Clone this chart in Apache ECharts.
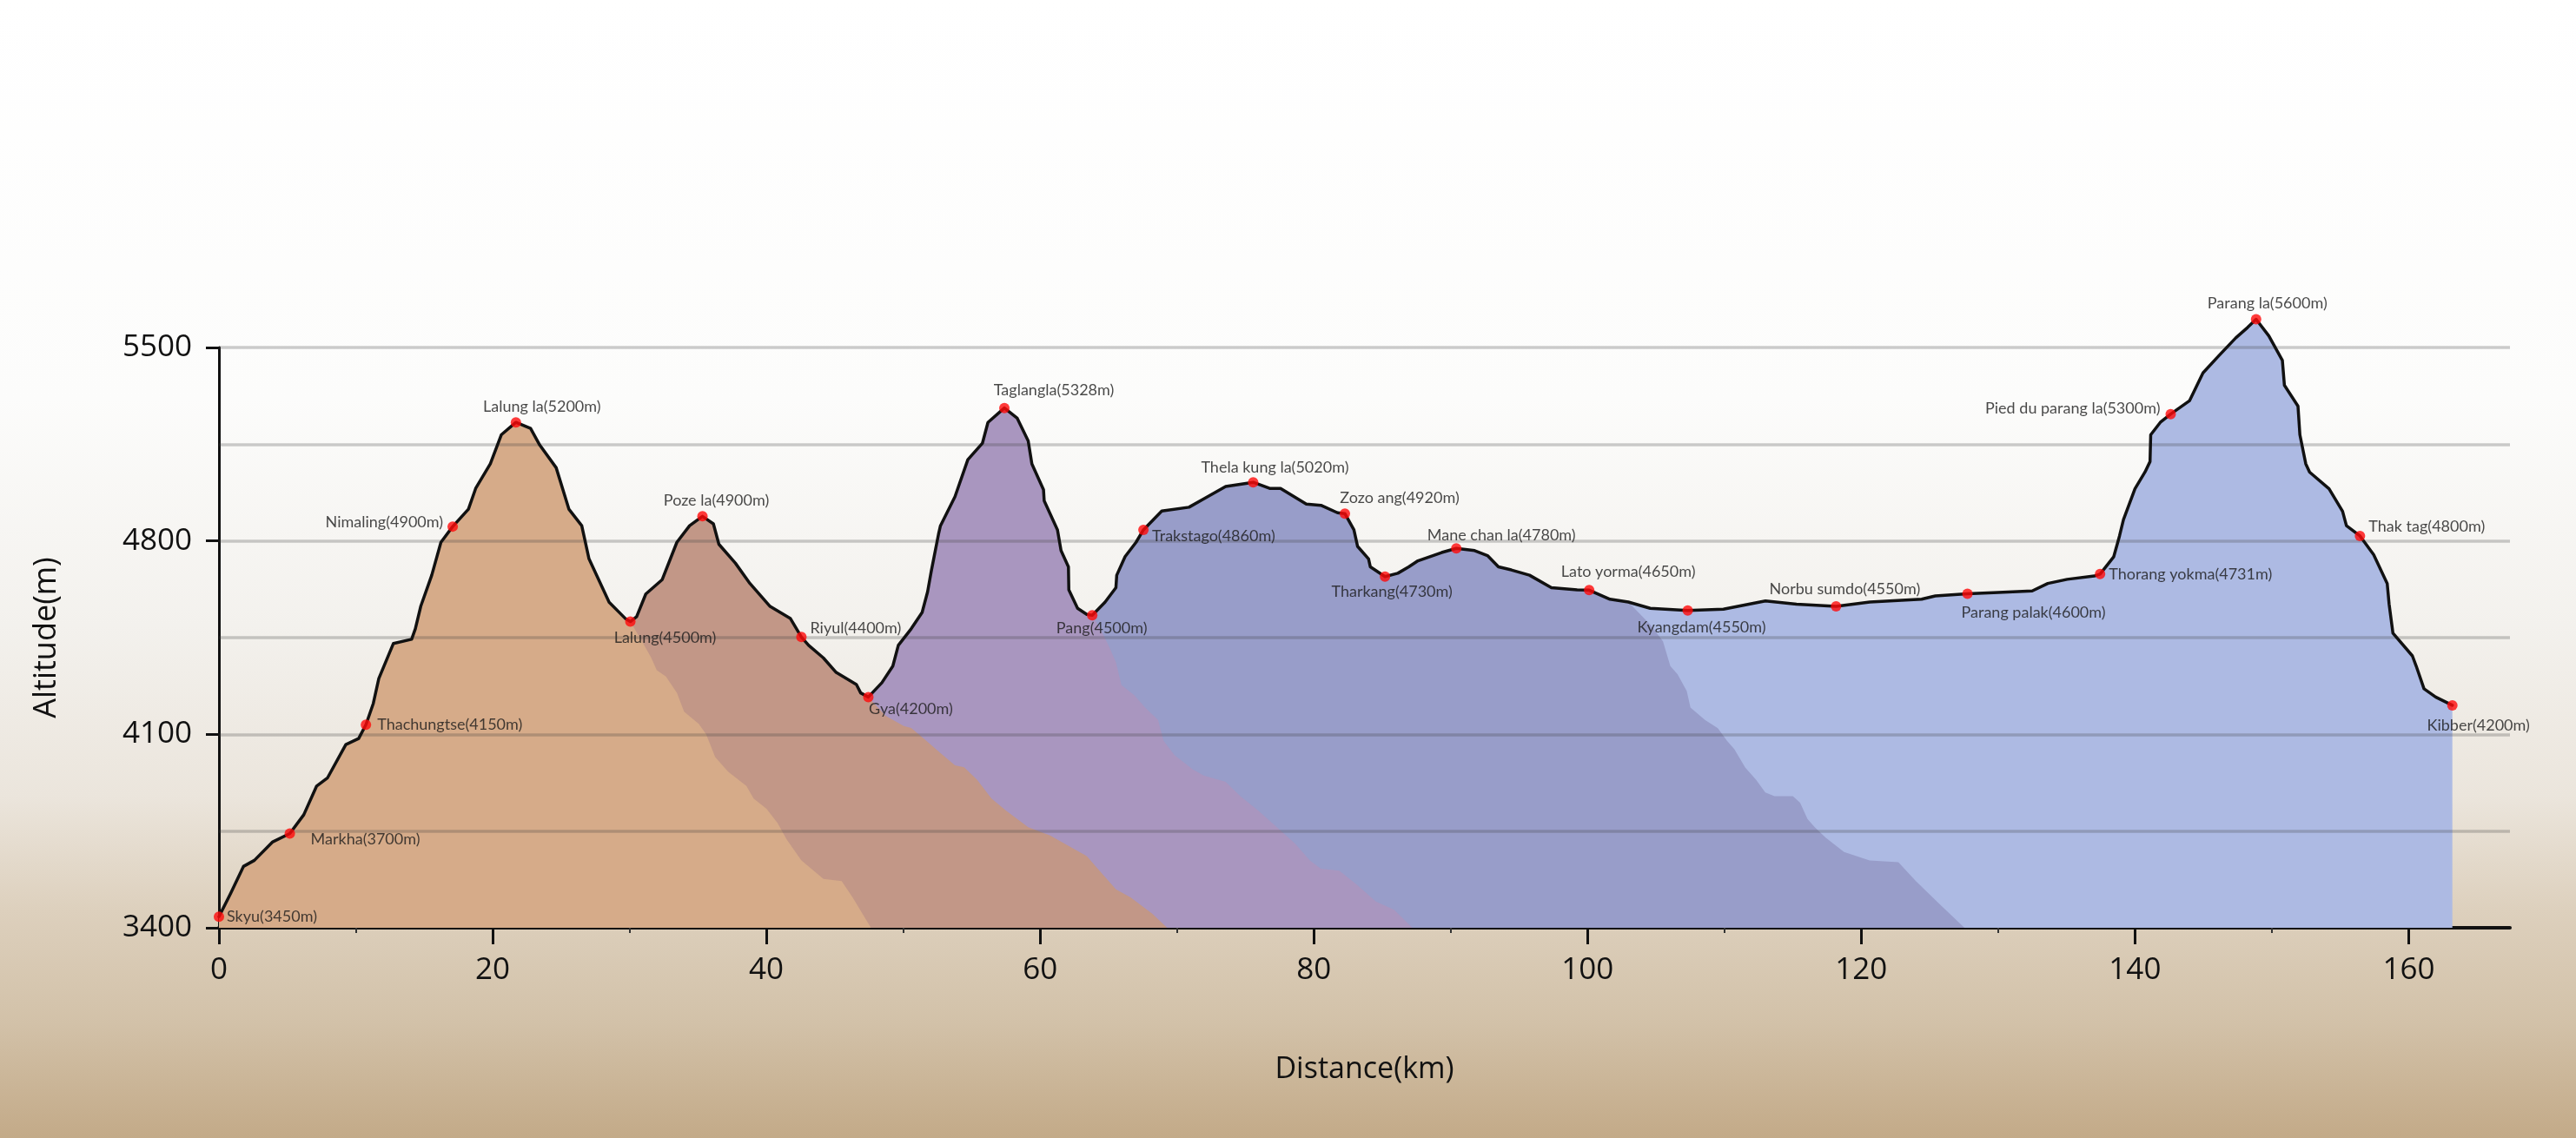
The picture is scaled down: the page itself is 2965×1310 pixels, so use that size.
<!DOCTYPE html>
<html>
<head>
<meta charset="utf-8">
<script src="https://cdn.jsdelivr.net/npm/echarts@6/dist/echarts.min.js"></script>
<style>
html,body{margin:0;padding:0;width:100%;height:100%;overflow:hidden;background:#fff;}
#chart{width:2965px;height:1310px;}
</style>
</head>
<body>
<div id="chart"></div>
<script>
// ---------------- data ----------------
const xTickValues = [0, 20, 40, 60, 80, 100, 120, 140, 160];
const yTickValues = [3400, 4100, 4800, 5500];
const gridValues = [3750, 4100, 4450, 4800, 5150, 5500];

// profile segments [km, altitude m]
const segSkyuLalung = [
  [0, 3440], [0.86, 3525], [1.79, 3622], [2.59, 3644], [3.93, 3711], [5.18, 3741],
  [6.20, 3809], [7.14, 3913], [7.94, 3943], [9.27, 4063], [10.21, 4085], [10.74, 4135],
  [11.28, 4212], [11.68, 4302], [12.75, 4429], [14.08, 4444], [14.35, 4482], [14.75, 4564],
  [15.55, 4676], [16.22, 4795], [17.08, 4852], [18.23, 4915], [18.76, 4990], [19.83, 5079],
  [20.63, 5184], [21.70, 5229], [22.77, 5207], [23.44, 5147], [24.64, 5065], [25.57, 4915],
  [26.51, 4855], [27.04, 4735], [28.51, 4578], [29.72, 4518], [30.06, 4508]
];
const segLalungGya = [
  [30.06, 4508], [30.52, 4526], [31.19, 4608], [32.39, 4660], [33.46, 4795], [34.39, 4855],
  [35.33, 4889], [36.13, 4862], [36.53, 4788], [37.73, 4720], [38.80, 4646], [40.27, 4563],
  [41.76, 4519], [42.56, 4452], [43.09, 4422], [44.16, 4377], [45.10, 4324], [46.58, 4280],
  [46.89, 4250], [47.45, 4235]
];
const segGyaPang = [
  [47.45, 4235], [48.44, 4287], [49.24, 4347], [49.64, 4422], [50.58, 4482], [51.38, 4541],
  [51.78, 4616], [52.05, 4691], [52.58, 4825], [52.72, 4855], [53.78, 4960], [54.72, 5094],
  [55.79, 5154], [56.19, 5229], [57.39, 5281], [58.33, 5244], [59.13, 5162], [59.40, 5079],
  [60.25, 4985], [60.30, 4945], [61.27, 4840], [61.53, 4765], [62.07, 4706], [62.10, 4623],
  [62.74, 4556], [63.41, 4534], [63.81, 4531]
];
const segPangLato = [
  [63.81, 4531], [64.74, 4578], [65.54, 4631], [65.60, 4676], [66.21, 4743], [67.01, 4795],
  [67.55, 4840], [68.89, 4908], [70.88, 4922], [71.96, 4952], [73.56, 4997], [75.57, 5012],
  [76.77, 4990], [77.57, 4990], [79.45, 4933], [80.52, 4929], [81.73, 4902], [82.27, 4899],
  [82.93, 4840], [83.20, 4780], [84.00, 4735], [84.13, 4706], [85.20, 4671], [86.14, 4683],
  [86.94, 4706], [87.61, 4728], [89.34, 4758], [90.41, 4773], [91.75, 4765], [92.69, 4747],
  [93.49, 4706], [94.43, 4695], [95.76, 4676], [97.36, 4631], [99.24, 4623], [100.12, 4622],
  [101.64, 4589], [102.98, 4579]
];
const segKyangdamKibber = [
  [102.98, 4579], [104.58, 4556], [107.32, 4548], [109.93, 4553], [113.00, 4583], [115.27, 4571],
  [118.16, 4563], [120.63, 4579], [124.41, 4589], [125.41, 4601], [127.76, 4609], [129.66, 4613],
  [132.49, 4619], [133.63, 4646], [135.05, 4661], [137.03, 4673], [137.45, 4680], [138.45, 4743],
  [138.87, 4818], [139.16, 4877], [140.00, 4989], [140.73, 5049], [141.10, 5087], [141.15, 5184],
  [141.85, 5229], [142.61, 5259], [143.98, 5307], [144.97, 5408], [146.09, 5468], [147.37, 5535],
  [148.22, 5572], [148.85, 5602], [149.78, 5542], [150.77, 5453], [150.92, 5363], [151.91, 5288],
  [152.05, 5184], [152.48, 5079], [152.76, 5049], [154.18, 4989], [155.17, 4907], [155.45, 4855],
  [156.44, 4818], [157.44, 4750], [158.43, 4646], [158.57, 4571], [158.85, 4466], [160.27, 4384],
  [160.55, 4347], [161.12, 4265], [161.97, 4235], [163.19, 4205]
];

// descending silhouettes of each layer down to the baseline
const shadowTan = [
  [30.92, 4436], [31.59, 4377], [31.99, 4332], [32.66, 4309], [33.46, 4250], [33.99, 4182],
  [35.06, 4138], [35.60, 4100], [36.26, 4018], [37.20, 3965], [38.54, 3913], [39.07, 3868],
  [40.01, 3831], [40.82, 3779], [41.49, 3719], [42.56, 3644], [44.17, 3577], [45.50, 3569],
  [46.30, 3510], [47.64, 3400]
];
const shadowMauve = [
  [48.71, 4167], [50.04, 4130], [50.58, 4123], [51.65, 4078], [52.71, 4033], [53.78, 3988],
  [54.45, 3981], [55.39, 3936], [56.45, 3868], [57.52, 3824], [59.13, 3764], [60.73, 3734],
  [61.80, 3704], [63.41, 3659], [64.21, 3614], [65.01, 3569], [65.54, 3539], [66.61, 3510],
  [68.21, 3450], [69.28, 3400]
];
const shadowPurple = [
  [64.47, 4474], [65.01, 4421], [65.54, 4361], [65.94, 4279], [66.88, 4242], [67.68, 4197],
  [68.62, 4152], [69.02, 4077], [69.82, 4025], [71.16, 3973], [71.96, 3951], [73.56, 3928],
  [74.63, 3876], [75.97, 3823], [77.30, 3764], [78.64, 3704], [79.71, 3644], [80.51, 3614],
  [81.86, 3607], [83.19, 3554], [84.53, 3495], [85.87, 3465], [87.20, 3400]
];
const shadowSlate = [
  [104.58, 4497], [105.51, 4437], [106.05, 4347], [106.58, 4317], [107.25, 4257], [107.52, 4197],
  [108.58, 4152], [109.52, 4122], [110.19, 4077], [110.72, 4047], [111.52, 3980], [112.32, 3935],
  [112.99, 3890], [113.66, 3876], [115.00, 3876], [115.53, 3853], [116.07, 3794], [116.60, 3764],
  [117.40, 3726], [118.74, 3674], [120.61, 3644], [122.71, 3637], [123.99, 3569], [125.69, 3487],
  [127.54, 3400]
];

// waypoints
const waypointNames = ['Skyu', 'Markha', 'Thachungtse', 'Nimaling', 'Lalung la', 'Lalung', 'Poze la',
  'Riyul', 'Gya', 'Taglangla', 'Pang', 'Trakstago', 'Thela kung la', 'Zozo ang', 'Tharkang',
  'Mane chan la', 'Lato yorma', 'Kyangdam', 'Norbu sumdo', 'Parang palak', 'Thorang yokma',
  'Pied du parang la', 'Parang la', 'Thak tag', 'Kibber'];
const waypointNominal = [3450, 3700, 4150, 4900, 5200, 4500, 4900, 4400, 4200, 5328, 4500, 4860,
  5020, 4920, 4730, 4780, 4650, 4550, 4550, 4600, 4731, 5300, 5600, 4800, 4200];
const waypointKm = [0, 5.18, 10.74, 17.08, 21.70, 30.06, 35.33, 42.56, 47.45, 57.39, 63.81, 67.55,
  75.57, 82.27, 85.20, 90.41, 100.12, 107.32, 118.16, 127.76, 137.45, 142.61, 148.85, 156.44, 163.19];
const waypointAlt = [3440, 3741, 4135, 4852, 5229, 4508, 4889, 4452, 4235, 5281, 4531, 4840,
  5012, 4899, 4671, 4773, 4622, 4548, 4563, 4609, 4680, 5259, 5602, 4818, 4205];

// ---------------- layout / style (not data) ----------------
// label placement: [align, dx, dy] relative to the dot centre
const labelPlacement = {
  'Skyu': ['left', 9, 0], 'Markha': ['left', 24, 7], 'Thachungtse': ['left', 13, 0],
  'Nimaling': ['right', -11, -5], 'Lalung la': ['center', 30, -18], 'Lalung': ['center', 40, 19],
  'Poze la': ['center', 16, -18], 'Riyul': ['left', 10, -10], 'Gya': ['center', 49, 14],
  'Taglangla': ['center', 57, -20], 'Pang': ['center', 11, 15], 'Trakstago': ['left', 10, 7],
  'Thela kung la': ['center', 25, -17], 'Zozo ang': ['center', 63, -18], 'Tharkang': ['center', 8, 17],
  'Mane chan la': ['center', 52, -15], 'Lato yorma': ['center', 45, -21], 'Kyangdam': ['center', 16, 19],
  'Norbu sumdo': ['center', 10, -20], 'Parang palak': ['center', 76, 22], 'Thorang yokma': ['left', 10, 0],
  'Pied du parang la': ['right', -12, -6], 'Parang la': ['center', 13, -18], 'Thak tag': ['left', 10, -11],
  'Kibber': ['center', 30, 23]
};
const DOT = 12;

const profile = [];
[segSkyuLalung, segLalungGya, segGyaPang, segPangLato, segKyangdamKibber].forEach((seg, i) => {
  seg.forEach((p, j) => { if (i === 0 || j > 0) profile.push(p); });
});

function areaLayer(name, data, color) {
  return {
    name: name, type: 'line', data: data, z: 1, clip: false, silent: true,
    showSymbol: false, symbol: 'none',
    lineStyle: { width: 0, opacity: 0 },
    areaStyle: { color: color, opacity: 1 }
  };
}

const waypointData = waypointNames.map((n, i) => {
  const pl = labelPlacement[n];
  return {
    name: n,
    value: [waypointKm[i], waypointAlt[i]],
    label: {
      show: true,
      formatter: n + '(' + waypointNominal[i] + 'm)',
      position: [DOT / 2 + pl[1], DOT / 2 + pl[2]],
      align: pl[0],
      verticalAlign: 'middle'
    }
  };
});

const tanLayer = areaLayer('Skyu - Lalung', segSkyuLalung.concat(shadowTan), '#D6AB89');
tanLayer.markLine = {
  silent: true, symbol: 'none', z: 2, animation: false,
  label: { show: false },
  lineStyle: { color: 'rgba(60,60,60,0.26)', width: 3.5, type: 'solid' },
  data: gridValues.map(v => ({ yAxis: v }))
};

const option = {
  animation: false,
  backgroundColor: {
    type: 'linear', x: 0, y: 0, x2: 0, y2: 1,
    colorStops: [
      { offset: 0, color: '#ffffff' },
      { offset: 0.35, color: '#fcfcfb' },
      { offset: 0.55, color: '#f3f1ed' },
      { offset: 0.70, color: '#ebe5dc' },
      { offset: 0.80, color: '#ddd0bd' },
      { offset: 0.90, color: '#d2c1a8' },
      { offset: 1, color: '#c3aa88' }
    ]
  },
  grid: { left: 252, right: 76, top: 400, bottom: 242, outerBoundsMode: 'none' },
  xAxis: {
    type: 'value', min: 0, max: 167.4, interval: 20,
    name: 'Distance(km)', nameLocation: 'middle', nameGap: 146,
    nameTextStyle: { fontFamily: 'Open Sans', fontSize: 34, color: '#111' },
    axisLine: { show: true, lineStyle: { color: '#111', width: 4 } },
    axisTick: { show: true, customValues: xTickValues, length: 19, lineStyle: { color: '#111', width: 3 } },
    minorTick: { show: true, splitNumber: 2, length: 6, lineStyle: { color: '#333', width: 2 } },
    axisLabel: { customValues: xTickValues, fontFamily: 'Open Sans', fontSize: 35, color: '#111', margin: 32,
      formatter: v => String(v) },
    splitLine: { show: false }
  },
  yAxis: {
    type: 'value', min: 3400, max: 5500,
    name: 'Altitude(m)', nameLocation: 'middle', nameGap: 180, nameRotate: 90,
    nameTextStyle: { fontFamily: 'Open Sans', fontSize: 36, color: '#111' },
    axisLine: { show: true, lineStyle: { color: '#111', width: 3 } },
    axisTick: { show: true, customValues: yTickValues, length: 15, lineStyle: { color: '#111', width: 3 } },
    axisLabel: { customValues: yTickValues, fontFamily: 'Open Sans', fontSize: 35, color: '#111', margin: 31,
      formatter: v => String(v) },
    splitLine: { show: false }
  },
  series: [
    areaLayer('Kyangdam - Kibber', segKyangdamKibber, '#ADBAE3'),
    areaLayer('Pang - Kyangdam', segPangLato.concat(shadowSlate), '#989DC9'),
    areaLayer('Gya - Pang', segGyaPang.concat(shadowPurple), '#A996BF'),
    areaLayer('Lalung - Gya', segLalungGya.concat(shadowMauve), '#C29787'),
    tanLayer,
    {
      name: 'Profile', type: 'line', data: profile, z: 3, clip: false, silent: true,
      showSymbol: false, symbol: 'none',
      lineStyle: { color: '#111', width: 3.5, join: 'round', cap: 'round' }
    },
    {
      name: 'Waypoints', type: 'scatter', data: waypointData, z: 4, clip: false,
      symbol: 'circle', symbolSize: DOT,
      itemStyle: { color: '#ff0a0a' },
      label: { show: true, fontFamily: 'Lato', fontSize: 18, color: '#1a1a1a' }
    }
  ]
};

const chart = echarts.init(document.getElementById('chart'));
chart.setOption(option);
</script>
</body>
</html>
